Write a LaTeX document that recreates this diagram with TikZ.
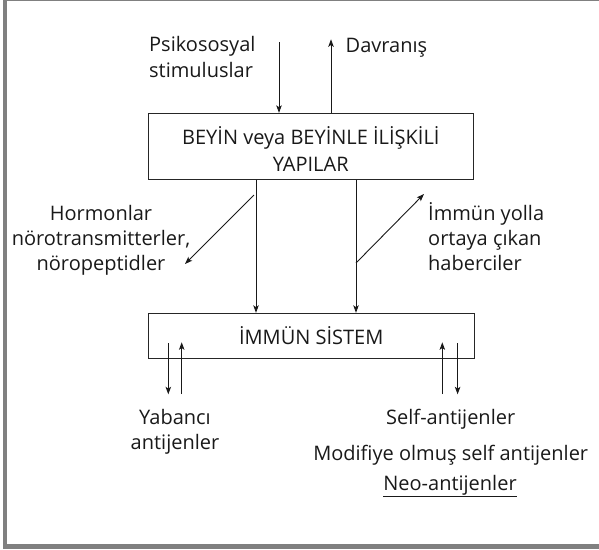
\documentclass[tikz,border=0pt]{standalone}
\usepackage{fontspec}
\setmainfont{Open Sans}
\usetikzlibrary{arrows.meta}
\definecolor{framegray}{RGB}{128,128,128}
\begin{document}
\begin{tikzpicture}[x=1pt,y=-1pt,
  every node/.style={font=\fontsize{20}{25}\selectfont, inner sep=0pt, text=black!90},
  box/.style={draw=black!85, line width=1pt},
  arr/.style={draw=black!90, line width=0.9pt, -{Stealth[length=7.5pt,width=5.5pt,inset=1.8pt]}},
  lbl/.style={align=center}]
\useasboundingbox (0,0) rectangle (599,549);
% frame
\draw[framegray, line width=1.2pt] (3,0.6) -- (599,0.6);
\fill[framegray] (3,0) rectangle (7,549);
\fill[framegray] (3,544.3) rectangle (599,549);
% boxes
\node[box, minimum width=325.6pt, minimum height=65.7pt] (brain) at (310.8,146.2) {};
\node[lbl, anchor=base, font=\fontsize{20}{26.5}\selectfont] (braintext) at (310.8,171) {BEYİN veya BEYİNLE İLİŞKİLİ\\YAPILAR};
\node[box, minimum width=326.4pt, minimum height=45pt] (immune) at (311.2,335.8) {İMMÜN SİSTEM};
% labels
\node[anchor=base west, align=left, font=\fontsize{20}{26}\selectfont] (psiko) at (149,77) {Psikososyal\\stimuluslar};
\node[anchor=base west] (davr) at (345.5,52) {Davranış};
\node[anchor=base, align=center] (horm) at (101,270) {Hormonlar\\nörotransmitterler,\\nöropeptidler};
\node[anchor=base west, align=left] (immyol) at (428,270) {İmmün yolla\\ortaya çıkan\\haberciler};
\node[anchor=base, align=center] (yab) at (175,449) {Yabancı\\antijenler};
\node[anchor=base] (self) at (450.7,424) {Self-antijenler};
\node[anchor=base] (modi) at (450.7,460) {Modifiye olmuş self antijenler};
\node[anchor=base] (neo) at (450,490) {\underline{Neo-antijenler}};
% connectors
\coordinate (ps) at (279,42.3);
\draw[arr] (ps) -- (ps |- brain.north);
\coordinate (dv) at (331,39.3);
\draw[arr] (dv |- brain.north) -- (dv);
\coordinate (vl) at (256,0);
\draw[arr] (vl |- brain.south) -- (vl |- immune.north);
\coordinate (vr) at (356,0);
\draw[arr] (vr |- brain.south) -- (vr |- immune.north);
\coordinate (hs) at (254,195);
\coordinate (he) at (185,264);
\draw[arr] (hs) -- (he);
\coordinate (is) at (356,263);
\coordinate (ie) at (424,194);
\draw[arr] (is) -- (ie);
\coordinate (a1t) at (168.3,343.3);
\coordinate (a1b) at (168.3,394.3);
\draw[arr] (a1t) -- (a1b);
\coordinate (a2t) at (181.7,342.3);
\coordinate (a2b) at (181.7,394);
\draw[arr] (a2b) -- (a2t);
\coordinate (a3t) at (442.3,342.3);
\coordinate (a3b) at (442.3,394);
\draw[arr] (a3b) -- (a3t);
\coordinate (a4t) at (457.6,343.3);
\coordinate (a4b) at (457.6,394.3);
\draw[arr] (a4t) -- (a4b);
\end{tikzpicture}
\end{document}
